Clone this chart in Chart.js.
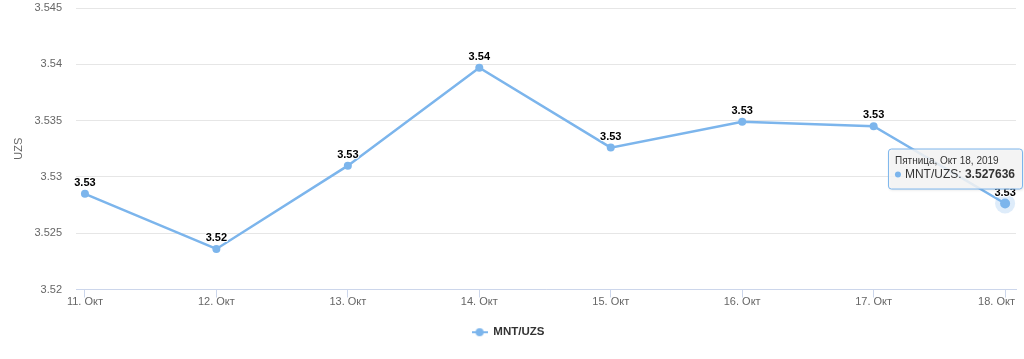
<!DOCTYPE html>
<html lang="ru">
<head>
    <meta charset="UTF-8">
    <title>MNT/UZS</title>
    <script src="https://cdn.jsdelivr.net/npm/chart.js@4.4.1/dist/chart.umd.min.js"></script>
    <style>
        body { margin: 0; background: #fff; }
        canvas { display: block; }
    </style>
</head>
<body>
    <canvas id="myChart" width="1024" height="359"></canvas>
    <script>
        // data
        var dates = ['11. Окт', '12. Окт', '13. Окт', '14. Окт', '15. Окт', '16. Окт', '17. Окт', '18. Окт'];
        var values = [3.5285, 3.5236, 3.5310, 3.5397, 3.5326, 3.5349, 3.5345, 3.527636];
        var yTicks = [3.52, 3.525, 3.53, 3.535, 3.54, 3.545];
        var seriesName = 'MNT/UZS';
        var axisTitle = 'UZS';
        var tooltipTitle = 'Пятница, Окт 18, 2019';

        var FONT = '"Lucida Grande", "Lucida Sans Unicode", Arial, Helvetica, sans-serif';
        var lineColor = '#7cb5ec';

        // legend symbol: line with a dot
        var legendIcon = document.createElement('canvas');
        legendIcon.width = 16;
        legendIcon.height = 10;
        var lc = legendIcon.getContext('2d');
        lc.strokeStyle = lineColor;
        lc.lineWidth = 2;
        lc.beginPath();
        lc.moveTo(0, 5);
        lc.lineTo(16, 5);
        lc.stroke();
        lc.fillStyle = lineColor;
        lc.beginPath();
        lc.arc(8, 5, 4, 0, 2 * Math.PI);
        lc.fill();

        var last = values.length - 1;

        // halo around hovered point
        var haloPlugin = {
            id: 'halo',
            beforeDatasetsDraw: function(chart) {
                var pt = chart.getDatasetMeta(0).data[last];
                var ctx = chart.ctx;
                ctx.save();
                ctx.fillStyle = 'rgba(124,181,236,0.25)';
                ctx.beginPath();
                ctx.arc(pt.x, pt.y, 10, 0, 2 * Math.PI);
                ctx.fill();
                ctx.restore();
            }
        };

        // last x label is pushed inside the plot, like the original
        var lastLabelFix = {
            id: 'lastLabelFix',
            beforeDraw: function(chart) {
                var items = chart.scales.x.getLabelItems();
                var it = items[items.length - 1];
                if (!it) return;
                it.options.textAlign = 'right';
                it.options.translation = [chart.chartArea.right - 1, it.options.translation[1]];
            }
        };

        // value labels above points
        var labelPlugin = {
            id: 'pointLabels',
            afterDatasetsDraw: function(chart) {
                var ctx = chart.ctx;
                var meta = chart.getDatasetMeta(0);
                ctx.save();
                ctx.font = 'bold 11px ' + FONT;
                ctx.textAlign = 'center';
                ctx.textBaseline = 'middle';
                ctx.lineJoin = 'round';
                meta.data.forEach(function(pt, i) {
                    var txt = values[i].toFixed(2);
                    ctx.lineWidth = 2;
                    ctx.strokeStyle = '#fff';
                    ctx.strokeText(txt, pt.x, pt.y - 11);
                    ctx.fillStyle = '#000';
                    ctx.fillText(txt, pt.x, pt.y - 11);
                });
                ctx.restore();
            }
        };

        // highcharts-like tooltip on the last point
        var tipPlugin = {
            id: 'fixedTip',
            afterDraw: function(chart) {
                var ctx = chart.ctx;
                var pt = chart.getDatasetMeta(0).data[last];
                var pad = 7;
                ctx.save();
                ctx.font = '10px ' + FONT;
                var wTitle = ctx.measureText(tooltipTitle).width;
                ctx.font = '12px ' + FONT;
                var nameTxt = seriesName + ': ';
                var wName = ctx.measureText(nameTxt).width;
                ctx.font = 'bold 12px ' + FONT;
                var valTxt = String(values[last]);
                var wVal = ctx.measureText(valTxt).width;
                var wBody = 10 + wName + wVal;
                var w = Math.max(wTitle, wBody) + pad * 2;
                var h = 40;
                var right = Math.min(pt.x + 17, chart.width - 2);
                var left = right - w;
                var top = pt.y - 55;

                ctx.shadowColor = 'rgba(0,0,0,0.15)';
                ctx.shadowOffsetX = 1;
                ctx.shadowOffsetY = 1;
                ctx.shadowBlur = 3;
                ctx.fillStyle = 'rgba(247,247,247,0.85)';
                ctx.beginPath();
                ctx.roundRect(left + 0.5, top + 0.5, w, h, 3);
                ctx.fill();
                ctx.shadowColor = 'transparent';
                ctx.strokeStyle = lineColor;
                ctx.lineWidth = 1;
                ctx.stroke();

                ctx.textBaseline = 'middle';
                ctx.textAlign = 'left';
                ctx.fillStyle = '#333';
                ctx.font = '10px ' + FONT;
                ctx.fillText(tooltipTitle, left + pad, top + 13);

                var by = top + 26;
                ctx.fillStyle = lineColor;
                ctx.beginPath();
                ctx.arc(left + pad + 3, by, 3, 0, 2 * Math.PI);
                ctx.fill();
                ctx.fillStyle = '#333';
                ctx.font = '12px ' + FONT;
                ctx.fillText(nameTxt, left + pad + 10, by);
                ctx.font = 'bold 12px ' + FONT;
                ctx.fillText(valTxt, left + pad + 10 + wName, by);
                ctx.restore();
            }
        };

        var points = values.map(function(v, i) { return { x: i, y: v }; });

        var ctx = document.getElementById('myChart').getContext('2d');
        var myChart = new Chart(ctx, {
            type: 'line',
            data: {
                datasets: [{
                    label: seriesName,
                    data: points,
                    borderColor: lineColor,
                    backgroundColor: lineColor,
                    borderWidth: 2.5,
                    tension: 0,
                    fill: false,
                    pointRadius: function(c) { return c.dataIndex === last ? 5 : 4; },
                    pointBorderWidth: 0,
                    pointBackgroundColor: lineColor
                }]
            },
            options: {
                responsive: false,
                animation: false,
                devicePixelRatio: 1,
                layout: { padding: { top: 8, right: 8, bottom: 11, left: 0 } },
                plugins: {
                    tooltip: { enabled: false },
                    legend: {
                        display: true,
                        position: 'bottom',
                        labels: {
                            usePointStyle: true,
                            pointStyle: legendIcon,
                            pointStyleWidth: 16,
                            padding: 10,
                            color: '#333',
                            font: { family: FONT, size: 11.5, weight: 'bold' }
                        }
                    }
                },
                scales: {
                    x: {
                        type: 'linear',
                        min: -0.068,
                        max: 7.083,
                        afterBuildTicks: function(scale) {
                            scale.ticks = dates.map(function(d, i) { return { value: i }; });
                        },
                        afterFit: function(scale) {
                            scale.height = 27;
                            scale.paddingLeft = 0;
                            scale.paddingRight = 0;
                        },
                        border: { display: true, color: '#ccd6eb', width: 1 },
                        grid: {
                            drawOnChartArea: false,
                            drawTicks: true,
                            tickLength: 8,
                            tickColor: '#ccd6eb'
                        },
                        ticks: {
                            autoSkip: false,
                            maxRotation: 0,
                            padding: -2,
                            color: '#666',
                            font: { family: FONT, size: 11 },
                            callback: function(v) { return dates[v]; }
                        }
                    },
                    y: {
                        min: yTicks[0],
                        max: yTicks[yTicks.length - 1],
                        afterBuildTicks: function(scale) {
                            scale.ticks = yTicks.map(function(v) { return { value: v }; });
                        },
                        afterFit: function(scale) {
                            scale.width = 76;
                            scale.paddingTop = 0;
                            scale.paddingBottom = 0;
                        },
                        border: { display: false },
                        grid: { color: '#e6e6e6', drawTicks: false },
                        ticks: {
                            padding: 14,
                            color: '#666',
                            font: { family: FONT, size: 11 },
                            callback: function(v) { return String(+v.toFixed(3)); }
                        },
                        title: {
                            display: true,
                            text: axisTitle,
                            color: '#666',
                            padding: { top: 12, bottom: 0 },
                            font: { family: FONT, size: 11 }
                        }
                    }
                }
            },
            plugins: [lastLabelFix, haloPlugin, labelPlugin, tipPlugin]
        });
    </script>
</body>
</html>
